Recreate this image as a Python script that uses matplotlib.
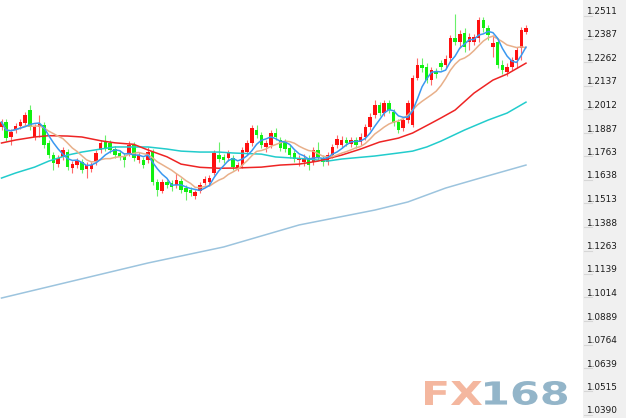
import numpy as np
import pandas as pd
import matplotlib
matplotlib.use("Agg")
import matplotlib.pyplot as plt
from matplotlib.patches import Rectangle, PathPatch
from matplotlib.lines import Line2D
from matplotlib.textpath import TextPath
from matplotlib.font_manager import FontProperties
from matplotlib.transforms import (Affine2D, IdentityTransform,
                                   blended_transform_factory, ScaledTranslation)

# ---------------- data (daily candles) ----------------
opens = [1.1919, 1.1945, 1.1866, 1.1903, 1.1924, 1.1940, 1.2009, 1.1866, 1.1919, 1.1929,
         1.1834, 1.1770, 1.1722, 1.1760, 1.1786, 1.1701, 1.1717, 1.1733, 1.1696, 1.1696,
         1.1733, 1.1797, 1.1844, 1.1834, 1.1802, 1.1781, 1.1765, 1.1781, 1.1823, 1.1744,
         1.1744, 1.1744, 1.1786, 1.1627, 1.1579, 1.1627, 1.1622, 1.1611, 1.1632, 1.1595,
         1.1584, 1.1552, 1.1579, 1.1622, 1.1627, 1.1675, 1.1770, 1.1760, 1.1754, 1.1754,
         1.1701, 1.1717, 1.1786, 1.1834, 1.1903, 1.1876, 1.1813, 1.1823, 1.1887, 1.1850,
         1.1839, 1.1807, 1.1781, 1.1744, 1.1733, 1.1754, 1.1733, 1.1797, 1.1754, 1.1733,
         1.1770, 1.1823, 1.1823, 1.1850, 1.1829, 1.1850, 1.1839, 1.1866, 1.1919, 1.1982,
         1.2036, 1.1993, 1.2046, 1.1998, 1.1945, 1.1913, 1.1956, 1.1929, 1.2179, 1.2248,
         1.2237, 1.2168, 1.2211, 1.2258, 1.2248, 1.2285, 1.2391, 1.2370, 1.2418, 1.2370,
         1.2370, 1.2391, 1.2487, 1.2444, 1.2343, 1.2370, 1.2248, 1.2211, 1.2237, 1.2274,
         1.2338, 1.2423]
highs = [1.1961, 1.1961, 1.1908, 1.1940, 1.1961, 1.1998, 1.2036, 1.1935, 1.1982, 1.1945,
         1.1850, 1.1786, 1.1770, 1.1813, 1.1802, 1.1738, 1.1754, 1.1749, 1.1733, 1.1733,
         1.1797, 1.1850, 1.1876, 1.1850, 1.1818, 1.1797, 1.1781, 1.1844, 1.1839, 1.1786,
         1.1760, 1.1813, 1.1802, 1.1643, 1.1643, 1.1637, 1.1637, 1.1675, 1.1648, 1.1611,
         1.1600, 1.1584, 1.1627, 1.1659, 1.1664, 1.1797, 1.1839, 1.1775, 1.1797, 1.1770,
         1.1733, 1.1813, 1.1850, 1.1929, 1.1929, 1.1892, 1.1850, 1.1903, 1.1913, 1.1866,
         1.1855, 1.1823, 1.1797, 1.1770, 1.1775, 1.1770, 1.1813, 1.1839, 1.1770, 1.1786,
         1.1829, 1.1876, 1.1871, 1.1866, 1.1866, 1.1866, 1.1887, 1.1935, 1.1993, 1.2062,
         1.2051, 1.2062, 1.2062, 1.2014, 1.1961, 1.1972, 1.2062, 1.2195, 1.2285, 1.2285,
         1.2258, 1.2237, 1.2232, 1.2274, 1.2301, 1.2407, 1.2519, 1.2434, 1.2444, 1.2418,
         1.2412, 1.2503, 1.2503, 1.2460, 1.2407, 1.2391, 1.2274, 1.2258, 1.2290, 1.2343,
         1.2450, 1.2460]
lows = [1.1903, 1.1844, 1.1823, 1.1887, 1.1908, 1.1924, 1.1903, 1.1850, 1.1866, 1.1807,
        1.1754, 1.1691, 1.1706, 1.1744, 1.1691, 1.1675, 1.1701, 1.1675, 1.1648, 1.1680,
        1.1717, 1.1781, 1.1791, 1.1781, 1.1754, 1.1744, 1.1706, 1.1765, 1.1738, 1.1728,
        1.1701, 1.1728, 1.1611, 1.1552, 1.1568, 1.1595, 1.1579, 1.1595, 1.1568, 1.1531,
        1.1552, 1.1537, 1.1568, 1.1611, 1.1611, 1.1664, 1.1733, 1.1728, 1.1738, 1.1691,
        1.1685, 1.1701, 1.1770, 1.1818, 1.1860, 1.1807, 1.1786, 1.1807, 1.1850, 1.1791,
        1.1786, 1.1754, 1.1733, 1.1712, 1.1712, 1.1691, 1.1717, 1.1744, 1.1712, 1.1717,
        1.1754, 1.1807, 1.1807, 1.1818, 1.1813, 1.1807, 1.1823, 1.1850, 1.1903, 1.1967,
        1.1977, 1.1977, 1.1993, 1.1924, 1.1887, 1.1898, 1.1940, 1.1919, 1.2168, 1.2211,
        1.2152, 1.2142, 1.2179, 1.2221, 1.2232, 1.2264, 1.2354, 1.2338, 1.2317, 1.2328,
        1.2354, 1.2370, 1.2423, 1.2381, 1.2290, 1.2232, 1.2200, 1.2190, 1.2221, 1.2232,
        1.2274, 1.2412]
closes = [1.1945, 1.1860, 1.1892, 1.1924, 1.1945, 1.1982, 1.1919, 1.1919, 1.1935, 1.1823,
          1.1770, 1.1728, 1.1754, 1.1797, 1.1706, 1.1722, 1.1738, 1.1691, 1.1717, 1.1717,
          1.1781, 1.1834, 1.1807, 1.1797, 1.1770, 1.1760, 1.1744, 1.1823, 1.1754, 1.1770,
          1.1717, 1.1786, 1.1627, 1.1584, 1.1627, 1.1611, 1.1600, 1.1637, 1.1584, 1.1574,
          1.1568, 1.1574, 1.1611, 1.1643, 1.1648, 1.1781, 1.1749, 1.1744, 1.1781, 1.1706,
          1.1717, 1.1797, 1.1834, 1.1913, 1.1876, 1.1823, 1.1834, 1.1887, 1.1866, 1.1807,
          1.1802, 1.1770, 1.1749, 1.1754, 1.1754, 1.1717, 1.1797, 1.1760, 1.1733, 1.1770,
          1.1813, 1.1855, 1.1850, 1.1834, 1.1850, 1.1823, 1.1866, 1.1919, 1.1972, 1.2036,
          1.1993, 1.2046, 1.2009, 1.1940, 1.1903, 1.1956, 1.2046, 1.2179, 1.2248, 1.2232,
          1.2168, 1.2221, 1.2200, 1.2237, 1.2280, 1.2391, 1.2370, 1.2412, 1.2343, 1.2397,
          1.2397, 1.2487, 1.2444, 1.2407, 1.2365, 1.2248, 1.2221, 1.2237, 1.2274, 1.2328,
          1.2434, 1.2444]

# longer moving averages, read at sample candles
ma30_idx = [0, 3, 7, 10, 14, 17, 21, 24, 28, 31, 35, 38, 42, 46, 49, 55, 59, 63, 67,
            72, 76, 80, 84, 87, 91, 93, 96, 100, 104, 107, 111]
ma30_val = [1.1834, 1.1850, 1.1866, 1.1873, 1.1871, 1.1866, 1.1846, 1.1835, 1.1827,
            1.1797, 1.1761, 1.1722, 1.1705, 1.1700, 1.1701, 1.1706, 1.1717, 1.1722,
            1.1738, 1.1770, 1.1802, 1.1839, 1.1860, 1.1887, 1.1940, 1.1967, 1.2009,
            1.2099, 1.2168, 1.2200, 1.2258]
ma60_idx = [0, 3, 7, 10, 14, 17, 21, 24, 28, 31, 35, 38, 42, 46, 49, 55, 58, 65, 69,
            72, 79, 84, 87, 90, 93, 98, 103, 107, 111]
ma60_val = [1.1648, 1.1675, 1.1706, 1.1738, 1.1770, 1.1786, 1.1802, 1.1813, 1.1813,
            1.1813, 1.1802, 1.1791, 1.1786, 1.1786, 1.1781, 1.1775, 1.1760, 1.1749,
            1.1738, 1.1749, 1.1765, 1.1781, 1.1791, 1.1813, 1.1844, 1.1903, 1.1956,
            1.1993, 1.2051]
ma200_idx = [0, 16, 31, 47, 63, 79, 86, 94, 102, 111]
ma200_val = [1.1011, 1.1107, 1.1197, 1.1282, 1.1399, 1.1478, 1.1521, 1.1595, 1.1653, 1.1717]

price_ticks = [1.2511, 1.2387, 1.2262, 1.2137, 1.2012, 1.1887, 1.1763, 1.1638, 1.1513,
               1.1388, 1.1263, 1.1139, 1.1014, 1.0889, 1.0764, 1.0639, 1.0515, 1.0390]

# ---------------- figure ----------------
W, H, DPI = 626, 418, 100
fig = plt.figure(figsize=(W / DPI, H / DPI), dpi=DPI, facecolor="white")
plot_w = 583
ax = fig.add_axes([0, 0, plot_w / W, 1])
ax.set_facecolor("white")
for s in ax.spines.values():
    s.set_visible(False)
ax.set_xticks([])
ax.set_yticks([])

o = np.array(opens); h = np.array(highs); l = np.array(lows); c = np.array(closes)
n = len(c)
x = np.arange(n)

step_px = 4.725
ax.set_xlim(-1.5 / step_px, (plot_w - 1.5) / step_px)
k = (price_ticks[0] - price_ticks[-1]) / 399.5   # price per pixel
ax.set_ylim(price_ticks[-1] - 3 * k, price_ticks[0] + 15.5 * k)

RED = "#ff1010"
GREEN = "#10f010"
up = c >= o
col = np.where(up, RED, GREEN)
wick_col = np.where(up, "#ff6a6a", "#6af06a")

ax.vlines(x, l, h, colors=wick_col, linewidth=0.8, zorder=2)
body_lo = np.minimum(o, c)
body_hi = np.maximum(o, c)
body_h = np.maximum(body_hi - body_lo, k * 1.0)
ax.bar(x, body_h, bottom=body_lo, width=0.74, color=col, linewidth=0, zorder=3)

close_s = pd.Series(c)
ma5 = close_s.rolling(5, min_periods=1).mean()
ma10 = close_s.rolling(10, min_periods=1).mean()

ax.plot(ma200_idx, ma200_val, color="#9cc4de", lw=1.1, zorder=4)
ax.plot(ma60_idx, ma60_val, color="#22cccc", lw=1.1, zorder=4)
ax.plot(ma30_idx, ma30_val, color="#ee2424", lw=1.1, zorder=4)
ax.plot(x, ma10, color="#e8b08a", lw=1.1, zorder=5)
ax.plot(x, ma5, color="#3a98f0", lw=1.1, zorder=6)

# ---------------- right price panel ----------------
fig.patches.append(Rectangle((plot_w / W, 0), 1 - plot_w / W, 1,
                             transform=fig.transFigure, facecolor="#f0f0f0",
                             edgecolor="none", zorder=0))
trans = blended_transform_factory(fig.transFigure, ax.transData)
for t in price_ticks:
    fig.add_artist(Line2D([584 / W, 592 / W], [t, t], transform=trans,
                          color="#d6d6d6", lw=0.8))
    fig.text(586 / W, t, f"{t:.4f}", fontsize=6.4, family="DejaVu Sans",
             color="#1a1a1a", va="center", ha="left",
             transform=trans + ScaledTranslation(0, 4 / DPI, fig.dpi_scale_trans))

# ---------------- FX168 watermark ----------------
fp = FontProperties(family="DejaVu Sans", weight="bold")

def logo(txt, left, right, top_px, bottom_px, color):
    tp = TextPath((0, 0), txt, size=1, prop=fp)
    ext = tp.get_extents()
    sx = (right - left) / ext.width
    sy = (bottom_px - top_px) / ext.height
    tr = (Affine2D().translate(-ext.x0, -ext.y0).scale(sx, sy)
          .translate(left, H - bottom_px))
    patch = PathPatch(tp, transform=tr + IdentityTransform(), facecolor=color,
                      edgecolor="none", zorder=10)
    fig.add_artist(patch)

logo("FX", 425, 482, 381, 405, "#f4b79f")
logo("168", 485, 567, 381, 405, "#93b5c9")

fig.savefig("out.png", dpi=DPI, facecolor="white")
